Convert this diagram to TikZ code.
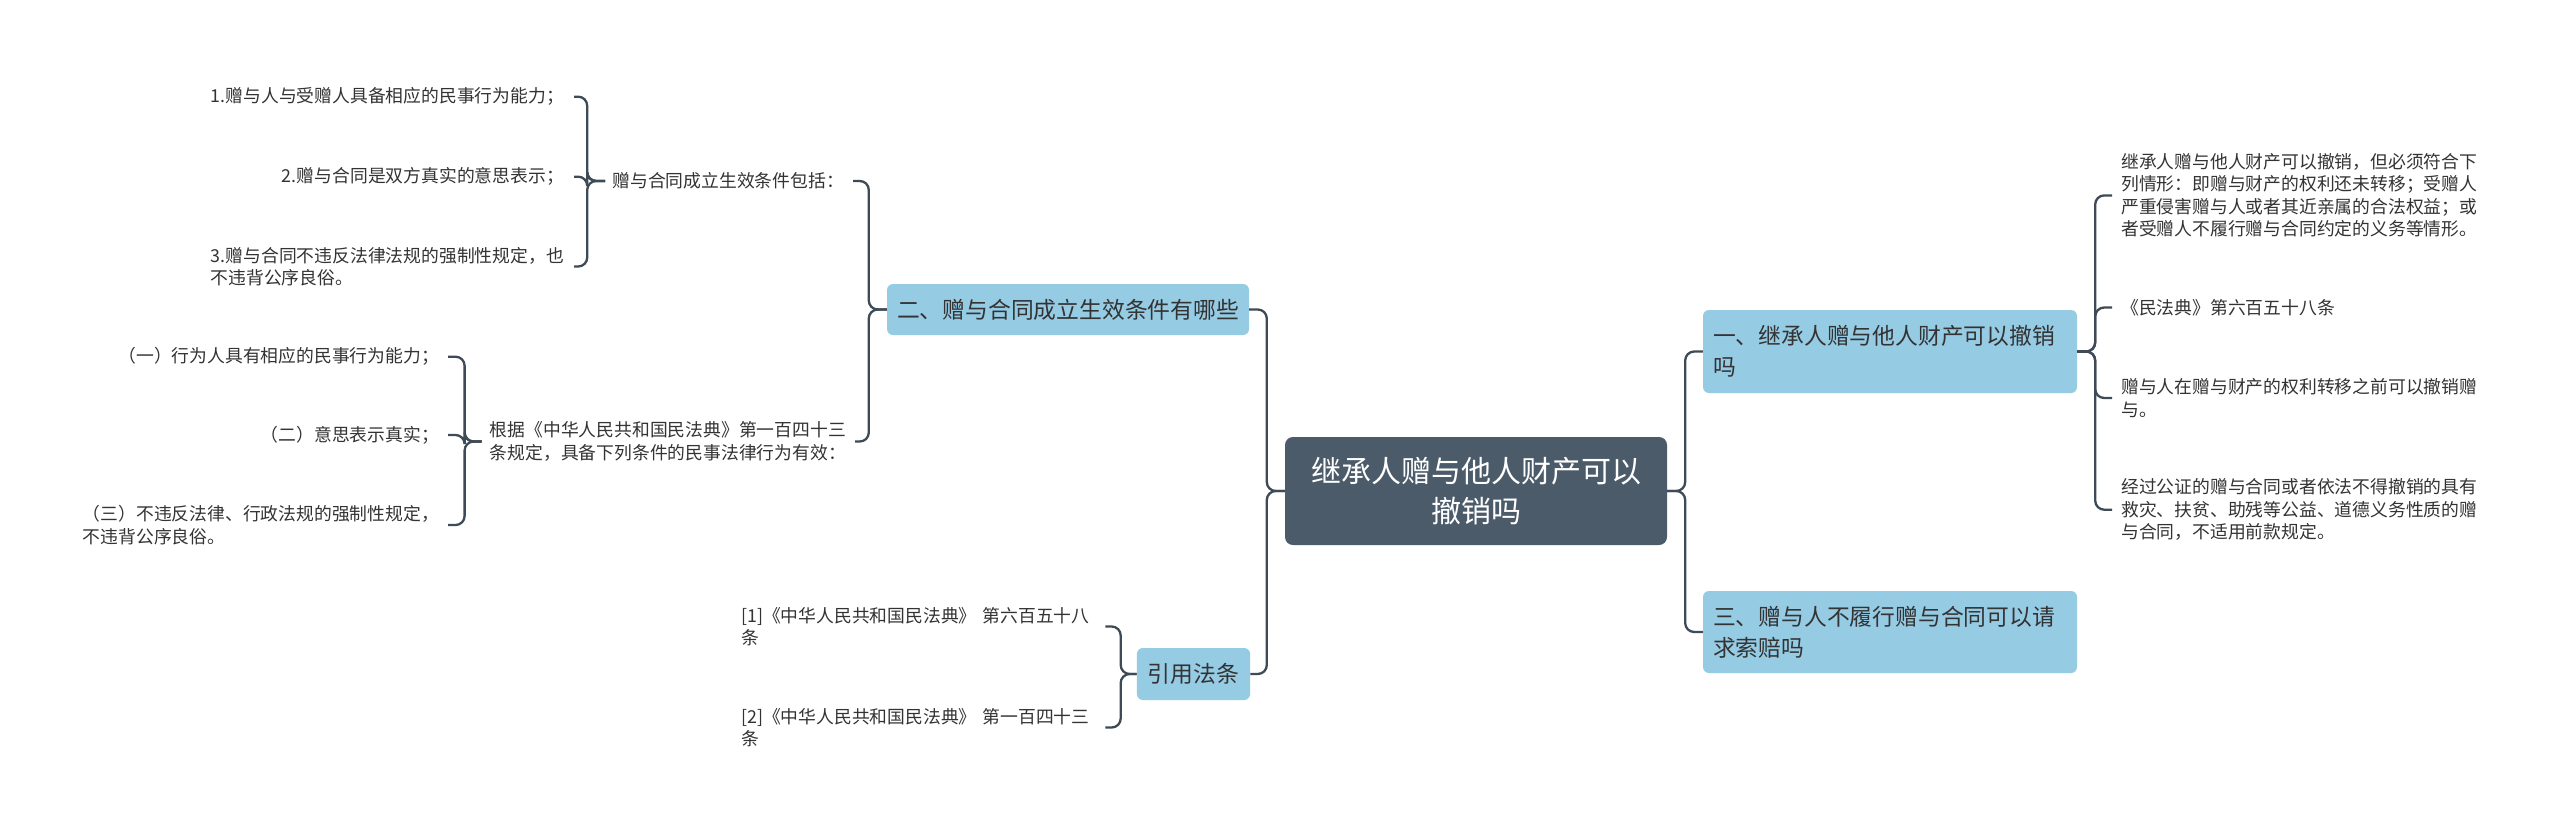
\documentclass[tikz,border=0pt]{standalone}
\usepackage{fontspec}
\newfontfamily\cjk{Noto Sans CJK SC}
\definecolor{linec}{HTML}{3E4A55}
\definecolor{darkbox}{HTML}{4B5B6A}
\definecolor{bluebox}{HTML}{96CBE4}
\definecolor{txt}{HTML}{333333}
\tikzset{
  conn/.style={draw=linec, line width=2.3pt, rounded corners=9pt},
  leaf/.style={font=\cjk\fontsize{17.8}{22.5}\selectfont, text=txt, inner sep=0pt, align=left},
  topic/.style={fill=bluebox, rounded corners=6pt, font=\cjk\fontsize{22.8}{31}\selectfont, text=txt, align=left, inner xsep=10pt, inner ysep=0pt},
  rootbox/.style={fill=darkbox, rounded corners=8pt, font=\cjk\fontsize{30}{40}\selectfont, text=white, align=center, minimum width=382pt, minimum height=108pt, inner sep=0pt}
}
\begin{document}
\begin{tikzpicture}[x=1pt,y=-1pt]
\useasboundingbox[fill=white] (0,0) rectangle (2560,833);

% root
\node[rootbox] (root) at (1476,491) {继承人赠与他人财产可以\\撤销吗};

% level 1 topics
\node[topic, text width=354pt, minimum height=83pt] (one) at (1890,351.5) {一、继承人赠与他人财产可以撤销\\吗};
\node[topic, text width=354pt, minimum height=82pt] (three) at (1890,632) {三、赠与人不履行赠与合同可以请\\求索赔吗};
\node[topic, text width=342pt, minimum height=51pt] (two) at (1068,309.5) {二、赠与合同成立生效条件有哪些};
\node[topic, text width=91.2pt, minimum height=52pt, inner xsep=11pt] (ref) at (1193.5,674) {引用法条};

% right leaves
\node[leaf, anchor=west] (r1) at (2121,195.4) {继承人赠与他人财产可以撤销，但必须符合下\\列情形：即赠与财产的权利还未转移；受赠人\\严重侵害赠与人或者其近亲属的合法权益；或\\者受赠人不履行赠与合同约定的义务等情形。};
\node[leaf, anchor=west] (r2) at (2121,307.5) {《民法典》第六百五十八条};
\node[leaf, anchor=west] (r3) at (2121,398) {赠与人在赠与财产的权利转移之前可以撤销赠\\与。};
\node[leaf, anchor=west] (r4) at (2121,509.7) {经过公证的赠与合同或者依法不得撤销的具有\\救灾、扶贫、助残等公益、道德义务性质的赠\\与合同，不适用前款规定。};

% left level 2
\node[leaf, anchor=east] (a) at (844,181) {赠与合同成立生效条件包括：};
\node[leaf, anchor=east] (b) at (846,441.5) {根据《中华人民共和国民法典》第一百四十三\\条规定，具备下列条件的民事法律行为有效：};

% grandchildren of a
\node[leaf, anchor=east] (a1) at (564,96.7) {1.赠与人与受赠人具备相应的民事行为能力；};
\node[leaf, anchor=east] (a2) at (564,176.7) {2.赠与合同是双方真实的意思表示；};
\node[leaf, anchor=east] (a3) at (564,266.5) {3.赠与合同不违反法律法规的强制性规定，也\\不违背公序良俗。};

% grandchildren of b
\node[leaf, anchor=east] (b1) at (439,356.7) {（一）行为人具有相应的民事行为能力；};
\node[leaf, anchor=east] (b2) at (439,435) {（二）意思表示真实；};
\node[leaf, anchor=east] (b3) at (439,525) {（三）不违反法律、行政法规的强制性规定，\\不违背公序良俗。};

% references
\node[leaf, anchor=west, text width=354pt] (k1) at (741,626.5) {[1]《中华人民共和国民法典》 第六百五十八\\条};
\node[leaf, anchor=west, text width=354pt] (k2) at (741,727.5) {[2]《中华人民共和国民法典》 第一百四十三\\条};

% connectors: root
\draw[conn] (root.east) -- ++(18,0) |- (one.west);
\draw[conn] (root.east) -- ++(18,0) |- (three.west);
\draw[conn] (root.west) -- ++(-18,0) |- (two.east);
\draw[conn] (root.west) -- ++(-18,0) |- (ref.east);

% one -> leaves
\foreach \n in {r1,r2,r3,r4}
  \draw[conn] (one.east) -- ++(18,0) |- ([xshift=-9pt]\n.west);

% two -> a, b
\draw[conn] (two.west) -- ++(-18,0) |- ([xshift=9pt]a.east);
\draw[conn] (two.west) -- ++(-18,0) |- ([xshift=9pt]b.east);

% a -> a1..a3
\foreach \n in {a1,a2,a3}
  \draw[conn] ([xshift=-7pt]a.west) -- ++(-18,0) |- ([xshift=10pt]\n.east);

% b -> b1..b3
\foreach \n in {b1,b2,b3}
  \draw[conn] ([xshift=-8pt]b.west) -- ++(-17,0) |- ([xshift=9pt]\n.east);

% ref -> k1, k2
\foreach \n in {k1,k2}
  \draw[conn] (ref.west) -- ++(-16,0) |- ([xshift=10pt]\n.east);
\end{tikzpicture}
\end{document}
